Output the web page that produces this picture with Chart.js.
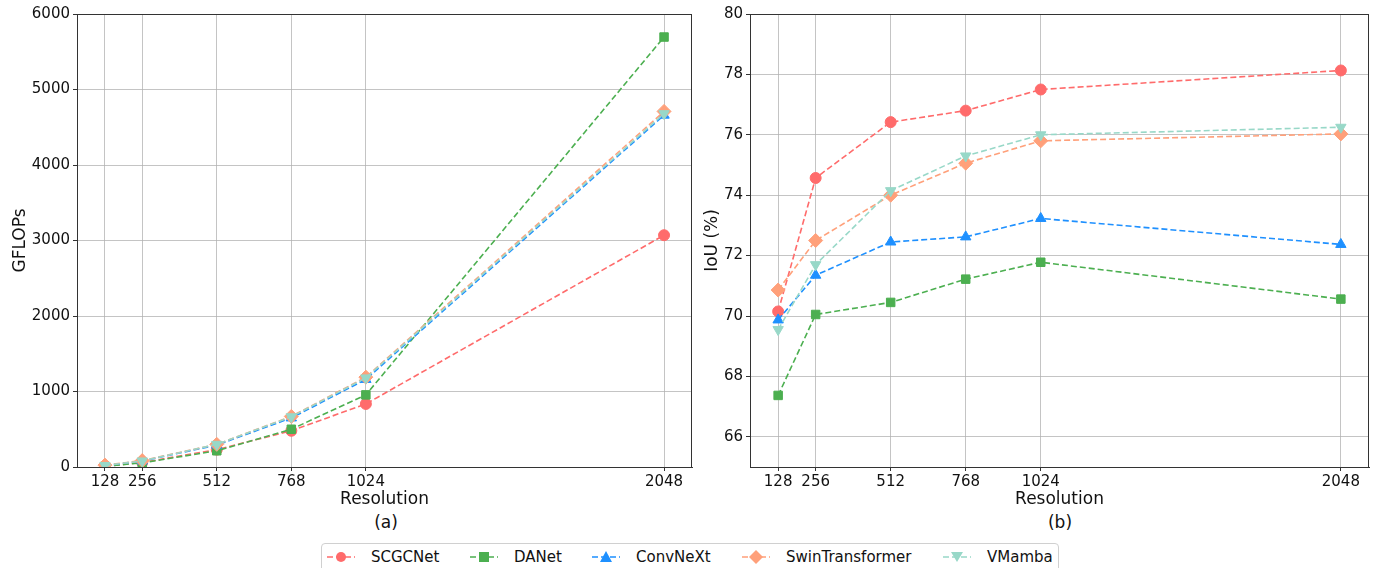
<!DOCTYPE html>
<html lang="en">
<head>
  <meta charset="UTF-8">
  <title>GFLOPs and IoU vs Resolution</title>
  <script src="https://cdn.jsdelivr.net/npm/chart.js"></script>
  <style>
    body {
      margin: 0;
      width: 1379px;
      height: 568px;
      background: #fff;
      font-family: "DejaVu Sans", sans-serif;
      position: relative;
      overflow: hidden;
    }
    .wrap { position: absolute; top: 0; height: 510px; }
    .sub {
      position: absolute;
      top: 512px;
      font-size: 17px;
      color: #111;
      transform: translateX(-50%);
    }
    .legend {
      position: absolute;
      left: 321px;
      top: 543px;
      width: 738px;
      height: 34px;
      border: 1px solid #d0d0d0;
      border-radius: 4px;
      box-sizing: border-box;
      font-size: 15px;
      color: #111;
    }
    .item { position: absolute; top: 4px; display: flex; align-items: center; }
    .item svg { margin-right: 16px; }
  </style>
</head>
<body>
  <div class="wrap" style="left:0;width:700px"><canvas id="flopsChart"></canvas></div>
  <div class="wrap" style="left:690px;width:689px"><canvas id="iouChart"></canvas></div>
  <div class="sub" style="left:386px">(a)</div>
  <div class="sub" style="left:1060px">(b)</div>
  <div class="legend" id="legend"></div>

  <script>
    // Data
    const resolutions = [128, 256, 512, 768, 1024, 2048];
    const models = ['SCGCNet', 'DANet', 'ConvNeXt', 'SwinTransformer', 'VMamba'];
    const colors = ['#FF6B6B', '#4CAF50', '#1E90FF', '#FFA07A', '#98D8C8'];
    const markers = ['circle', 'rect', 'triangle', 'rectRot', 'triangle'];
    const rotations = [0, 0, 0, 0, 180];

    const gflopsSCGCNet = [10, 60, 230, 480, 835, 3070];
    const gflopsDANet = [10, 55, 215, 500, 955, 5695];
    const gflopsConvNeXt = [20, 80, 290, 650, 1160, 4660];
    const gflopsSwin = [25, 85, 300, 670, 1190, 4710];
    const gflopsVMamba = [20, 80, 300, 665, 1180, 4680];

    const iouSCGCNet = [70.15, 74.57, 76.42, 76.8, 77.5, 78.13];
    const iouDANet = [67.37, 70.05, 70.45, 71.22, 71.78, 70.56];
    const iouConvNeXt = [69.87, 71.35, 72.45, 72.62, 73.23, 72.37];
    const iouSwin = [70.86, 72.5, 74.0, 75.06, 75.8, 76.03];
    const iouVMamba = [69.55, 71.7, 74.15, 75.3, 76.0, 76.25];

    const xTicks = resolutions;
    const flopsTicks = [0, 1000, 2000, 3000, 4000, 5000, 6000];
    const iouTicks = [66, 68, 70, 72, 74, 76, 78, 80];

    const gridColor = 'rgba(176,176,176,0.75)';
    const tickFont = { family: 'DejaVu Sans', size: 15 };
    const titleFont = { family: 'DejaVu Sans', size: 17 };

    // box around the plot area (matplotlib spines)
    const frame = {
      id: 'frame',
      afterDraw(chart) {
        const a = chart.chartArea, c = chart.ctx;
        c.save();
        c.strokeStyle = '#333';
        c.lineWidth = 1;
        c.strokeRect(a.left + 0.5, a.top + 0.5, a.right - a.left - 1, a.bottom - a.top);
        c.restore();
      }
    };

    function makeDatasets(series) {
      return series.map((vals, i) => ({
        label: models[i],
        data: resolutions.map((r, j) => ({ x: r, y: vals[j] })),
        borderColor: colors[i],
        backgroundColor: colors[i],
        borderWidth: 1.6,
        borderDash: [6, 3],
        pointStyle: markers[i],
        rotation: rotations[i],
        pointRadius: i === 0 ? 5.5 : (i === 3 ? 7 : 6),
        pointBorderWidth: 1,
        tension: 0,
        order: 4 - i,
      }));
    }

    function makeChart(id, width, series, yMin, yMax, yTicks, yTitle, padLeft, yAxisWidth, padRight) {
      const canvas = document.getElementById(id);
      canvas.width = width;
      canvas.height = 510;
      return new Chart(canvas, {
        type: 'line',
        data: { datasets: makeDatasets(series) },
        plugins: [frame],
        options: {
          responsive: false,
          animation: false,
          layout: { padding: { top: 14, left: padLeft, right: padRight, bottom: 0 } },
          plugins: { legend: { display: false }, tooltip: { enabled: false } },
          scales: {
            x: {
              type: 'linear',
              min: 32,
              max: 2144,
              afterBuildTicks: s => { s.ticks = xTicks.map(v => ({ value: v })); },
              afterFit: s => { s.height = 43; },
              ticks: { font: tickFont, color: '#111', padding: 2, maxRotation: 0, autoSkip: false, callback: v => String(v) },
              grid: { color: gridColor, tickLength: 4, tickColor: '#333' },
              border: { color: '#333' },
              title: { display: true, text: 'Resolution', font: titleFont, color: '#111', padding: 0 },
            },
            y: {
              min: yMin,
              max: yMax,
              afterBuildTicks: s => { s.ticks = yTicks.map(v => ({ value: v })); },
              afterFit: s => { s.width = yAxisWidth; },
              ticks: { font: tickFont, color: '#111', padding: 3, callback: v => String(v) },
              grid: { color: gridColor, tickLength: 4, tickColor: '#333' },
              border: { color: '#333' },
              title: { display: true, text: yTitle, font: titleFont, color: '#111', padding: 0 },
            },
          },
        },
      });
    }

    makeChart('flopsChart', 700,
      [gflopsSCGCNet, gflopsDANet, gflopsConvNeXt, gflopsSwin, gflopsVMamba],
      0, 6000, flopsTicks, 'GFLOPs', 10, 67, 6);

    makeChart('iouChart', 689,
      [iouSCGCNet, iouDANet, iouConvNeXt, iouSwin, iouVMamba],
      65, 80, iouTicks, 'IoU (%)', 12, 48, 10);

    // legend
    const legendX = [5, 148, 270, 420, 621];
    const legend = document.getElementById('legend');
    models.forEach((m, i) => {
      const c = colors[i];
      let shape;
      if (markers[i] === 'circle') shape = `<circle cx="14" cy="8" r="5" fill="${c}"/>`;
      else if (markers[i] === 'rect') shape = `<rect x="9" y="3" width="10" height="10" fill="${c}"/>`;
      else if (markers[i] === 'rectRot') shape = `<polygon points="14,1 21,8 14,15 7,8" fill="${c}"/>`;
      else if (rotations[i] === 180) shape = `<polygon points="8,3 20,3 14,13" fill="${c}"/>`;
      else shape = `<polygon points="14,2 20,13 8,13" fill="${c}"/>`;
      const el = document.createElement('div');
      el.className = 'item';
      el.style.left = legendX[i] + 'px';
      el.innerHTML = `<svg width="28" height="16"><line x1="0" y1="8" x2="28" y2="8" stroke="${c}" stroke-width="1.6" stroke-dasharray="6 3"/>${shape}</svg><span>${m}</span>`;
      legend.appendChild(el);
    });
  </script>
</body>
</html>
